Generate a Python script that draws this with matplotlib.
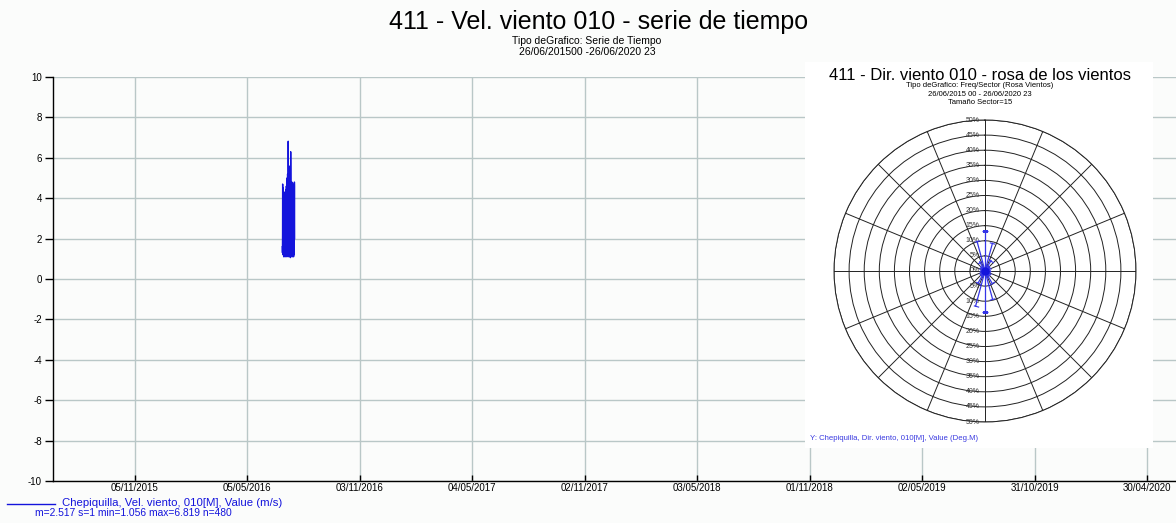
import numpy as np
import matplotlib
matplotlib.use("Agg")
import matplotlib.pyplot as plt
import matplotlib.dates as mdates
from datetime import datetime, timedelta

plt.rcParams['font.family'] = ['Liberation Sans', 'DejaVu Sans']

W, H = 1176, 523
BLUE = '#1414dc'
GRID = '#b9c7c7'

# --- serie de tiempo (m/s), cada 4 horas desde 01/07/2016 ---
t0 = datetime(2016, 7, 1)
step_h = 4
vel = [
    1.6, 1.3, 2.2, 4.7, 4.4, 2.0,
    1.4, 1.2, 2.4, 4.5, 3.9, 1.8,
    1.3, 1.1, 2.1, 4.2, 4.0, 2.2,
    1.5, 1.2, 2.6, 4.3, 3.6, 1.9,
    1.2, 1.1, 2.0, 4.1, 4.2, 2.1,
    1.4, 1.3, 2.5, 4.4, 3.8, 1.7,
    1.3, 1.1, 2.3, 4.6, 4.0, 2.0,
    1.5, 1.2, 2.8, 5.0, 4.4, 2.3,
    1.4, 1.3, 2.6, 5.2, 4.7, 2.1,
    1.2, 1.1, 3.0, 6.82, 5.1, 2.4,
    1.6, 1.4, 2.7, 4.9, 4.5, 2.2,
    1.3, 1.1, 2.4, 4.8, 4.6, 1.9,
    1.5, 1.2, 2.9, 5.6, 4.8, 2.3,
    1.4, 1.06, 3.1, 6.3, 4.9, 2.2,
    1.3, 1.2, 2.5, 4.7, 4.3, 2.0,
    1.5, 1.3, 2.6, 4.8, 4.5, 2.1,
    1.2, 1.1, 2.3, 4.6, 4.2, 1.8,
    1.4, 1.2, 2.7, 4.7, 4.4, 2.2,
    1.3, 1.1, 2.4, 4.5, 4.0, 1.9,
    1.5, 1.2, 2.5, 4.8, 4.6, 2.0,
]
times = [t0 + timedelta(hours=step_h * i) for i in range(len(vel))]

tick_dates = ['05/11/2015', '05/05/2016', '03/11/2016', '04/05/2017', '02/11/2017',
              '03/05/2018', '01/11/2018', '02/05/2019', '31/10/2019', '30/04/2020']
y_ticks = [-10, -8, -6, -4, -2, 0, 2, 4, 6, 8, 10]
x_start = datetime(2015, 6, 26, 0)
x_end = datetime(2020, 6, 26, 23)

# --- rosa de los vientos: frecuencia (%) por sector de 15 grados ---
sector_deg = [0, 15, 30, 45, 60, 75, 90, 105, 120, 135, 150, 165,
              180, 195, 210, 225, 240, 255, 270, 285, 300, 315, 330, 345]
freq = [13.2, 9.5, 4.0, 2.0, 1.5, 1.0, 1.0, 1.0, 1.5, 2.0, 4.5, 9.5,
        13.5, 12.0, 4.5, 2.0, 1.5, 1.0, 1.0, 1.0, 1.5, 2.0, 3.5, 10.2]
rings = [5, 10, 15, 20, 25, 30, 35, 40, 45, 50]


def fx(px):
    return px / W


def fy(py):
    return 1 - py / H


fig = plt.figure(figsize=(W / 100, H / 100), dpi=100)
fig.patch.set_facecolor('#fbfcfb')

# ---------------- serie de tiempo ----------------
ax = fig.add_axes([fx(53), fy(481), fx(1183) - fx(53), fy(77) - fy(481)])
ax.set_facecolor('#fbfcfb')
ax.plot(times, vel, color=BLUE, lw=1.0, zorder=3)
ax.set_xlim(x_start, x_end)
ax.set_ylim(-10, 10)
ax.set_yticks(y_ticks)
ax.set_yticklabels([str(v) for v in y_ticks])
ax.set_xticks([datetime.strptime(d, '%d/%m/%Y') for d in tick_dates])
ax.xaxis.set_major_formatter(mdates.DateFormatter('%d/%m/%Y'))
ax.grid(True, color=GRID, lw=1.0)
ax.set_axisbelow(True)
for s in ['top', 'right']:
    ax.spines[s].set_visible(False)
ax.spines['left'].set_linewidth(1.0)
ax.spines['bottom'].set_linewidth(1.0)
ax.tick_params(axis='y', direction='out', length=6, width=1, labelsize=7, pad=2)
ax.tick_params(axis='x', direction='in', length=4, width=1, labelsize=7, pad=1.5)

fig.text(fx(599), fy(22), '411 - Vel. viento 010 - serie de tiempo',
         ha='center', va='center', fontsize=18)
fig.text(fx(587), fy(41), 'Tipo deGrafico: Serie de Tiempo',
         ha='center', va='center', fontsize=7.5)
fig.text(fx(587), fy(52), '26/06/201500 -26/06/2020 23',
         ha='center', va='center', fontsize=7.5)

# leyenda
fig.add_artist(plt.Line2D([fx(7), fx(55)], [fy(504), fy(504)], color=BLUE, lw=1.0))
fig.text(fx(62), fy(503), 'Chepiquilla, Vel. viento, 010[M], Value (m/s)',
         ha='left', va='center', fontsize=8.2, color=BLUE)
fig.text(fx(35), fy(513.5), 'm=2.517 s=1 min=1.056 max=6.819 n=480',
         ha='left', va='center', fontsize=7.4, color=BLUE)

# ---------------- panel rosa ----------------
panel = fig.add_axes([fx(805), fy(448), fx(1153) - fx(805), fy(62) - fy(448)])
panel.set_facecolor('white')
panel.set_xticks([])
panel.set_yticks([])
for s in panel.spines.values():
    s.set_visible(False)

fig.text(fx(980), fy(75), '411 - Dir. viento 010 - rosa de los vientos',
         ha='center', va='center', fontsize=12)
fig.text(fx(980), fy(85.5), 'Tipo deGrafico: Freq/Sector (Rosa Vientos)',
         ha='center', va='center', fontsize=5.5)
fig.text(fx(980), fy(94), '26/06/2015 00 - 26/06/2020 23',
         ha='center', va='center', fontsize=5.5)
fig.text(fx(980), fy(103), 'Tamaño Sector=15',
         ha='center', va='center', fontsize=5.5)
fig.text(fx(810), fy(438), 'Y: Chepiquilla, Dir. viento, 010[M], Value (Deg.M)',
         ha='left', va='center', fontsize=5.6, color='#3a3ae0')

cx, cy, rad = 985, 271, 151
pax = fig.add_axes([fx(cx - rad), fy(cy + rad), 2 * rad / W, 2 * rad / H],
                   projection='polar')
pax.set_facecolor('none')
pax.set_theta_zero_location('N')
pax.set_theta_direction(-1)
pax.set_ylim(0, 50)
pax.set_rgrids(rings, labels=[''] * len(rings))
pax.set_thetagrids(np.arange(0, 360, 22.5), labels=[''] * 16)
pax.grid(True, color='#222222', lw=0.7)
pax.spines['polar'].set_color('#222222')
pax.spines['polar'].set_linewidth(0.7)
pax.tick_params(pad=0)

# etiquetas radiales arriba y abajo
pax.annotate('0%', xy=(0, 0), xytext=(-4, 0), textcoords='offset points',
             ha='right', va='center', fontsize=5, color='#333333')
for r in rings:
    for th in (0, np.pi):
        pax.annotate(f'{r}%', xy=(th, r), xytext=(-4, 0), textcoords='offset points',
                     ha='right', va='center', fontsize=5, color='#333333')

# petalos
for d, f in zip(sector_deg, freq):
    th = np.deg2rad(d)
    pax.plot([th, th], [0, f], color='#3535e6', lw=0.9, zorder=4)
    pax.plot([th], [f], marker=(2, 0, 90 - d), ms=4, mew=0.8,
             color='#3535e6', zorder=4)
pax.plot([0], [0], marker='o', ms=5, color=BLUE, zorder=5)

fig.savefig('out.png', dpi=100, facecolor=fig.get_facecolor())
